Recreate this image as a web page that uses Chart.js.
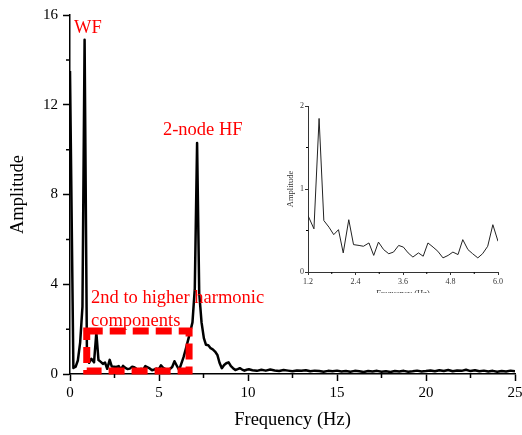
<!DOCTYPE html>
<html>
<head>
<meta charset="utf-8">
<script src="https://cdn.jsdelivr.net/npm/chart.js@4.4.0/dist/chart.umd.min.js"></script>
<style>
  html, body { margin: 0; padding: 0; background: #fff; }
  #wrap { position: relative; width: 522px; height: 435px; }
  #main { position: absolute; left: 0; top: 0; }
  #insetBox { position: absolute; left: 262px; top: 92px; width: 245px; height: 201px; overflow: hidden; }
</style>
</head>
<body>
<div id="wrap">
  <canvas id="main" width="522" height="435"></canvas>
  <div id="insetBox"><canvas id="inset" width="245" height="215"></canvas></div>
</div>
<script>
// spectrum (Hz, amplitude)
var freq = [
  0, 0.19, 0.32, 0.44, 0.57, 0.70, 0.82, 0.95, 1.07,
  1.2, 1.35, 1.48, 1.6, 1.73, 1.85, 1.97, 2.09, 2.23, 2.35,
  2.49, 2.6, 2.74, 2.86, 2.98, 3.11, 3.24, 3.36, 3.49, 3.61,
  3.73, 3.85, 3.99, 4.11, 4.23, 4.36, 4.48, 4.61, 4.74, 4.86,
  4.99, 5.11, 5.24, 5.36, 5.49, 5.61, 5.74, 5.87, 6.0,
  6.13, 6.25, 6.38, 6.5, 6.63, 6.76, 6.88, 7.01, 7.14, 7.26,
  7.39, 7.52, 7.64, 7.77, 7.9, 8.02, 8.15, 8.28, 8.4, 8.53,
  8.66, 8.78, 8.91, 9.04, 9.16, 9.29, 9.42, 9.54, 9.67, 9.8,
  9.92, 10.05,
  10.25, 10.5, 10.75, 11, 11.25, 11.5, 11.75, 12, 12.25, 12.5,
  12.75, 13, 13.25, 13.5, 13.75, 14, 14.25, 14.5, 14.75, 15,
  15.25, 15.5, 15.75, 16, 16.25, 16.5, 16.75, 17, 17.25, 17.5,
  17.75, 18, 18.25, 18.5, 18.75, 19, 19.25, 19.5, 19.75, 20,
  20.25, 20.5, 20.75, 21, 21.25, 21.5, 21.75, 22, 22.25, 22.5,
  22.75, 23, 23.25, 23.5, 23.75, 24, 24.25, 24.5, 24.75, 25
];
var amp = [
  13.5, 0.27, 0.33, 0.6, 1.4, 3.0, 14.9, 1.0, 0.5,
  0.68, 0.52, 1.85, 0.62, 0.54, 0.45, 0.51, 0.23, 0.63, 0.33,
  0.32, 0.31, 0.35, 0.20, 0.36, 0.27, 0.22, 0.24, 0.32, 0.30,
  0.23, 0.18, 0.23, 0.19, 0.35, 0.30, 0.25, 0.17, 0.20, 0.24,
  0.21, 0.39, 0.27, 0.22, 0.17, 0.22, 0.31, 0.57, 0.37,
  0.18, 0.45, 0.75, 1.1, 1.5, 1.9, 2.3, 3.8, 10.3, 3.6,
  2.3, 1.6, 1.3, 1.28, 1.15, 1.1, 1.0, 0.85, 0.5, 0.26,
  0.4, 0.48, 0.52, 0.35, 0.26, 0.18, 0.22, 0.26, 0.2, 0.15,
  0.19, 0.21,
  0.17, 0.14, 0.19, 0.15, 0.2, 0.16, 0.13, 0.18, 0.15, 0.12,
  0.16, 0.14, 0.17, 0.12, 0.15, 0.13, 0.1, 0.14, 0.12, 0.15,
  0.11, 0.13, 0.1, 0.14, 0.12, 0.09, 0.13, 0.11, 0.14, 0.1,
  0.12, 0.09, 0.13, 0.11, 0.14, 0.1, 0.12, 0.15, 0.11, 0.13,
  0.16, 0.12, 0.17, 0.13, 0.18, 0.12, 0.16, 0.14, 0.19, 0.13,
  0.17, 0.12, 0.15, 0.11, 0.14, 0.1, 0.13, 0.11, 0.15, 0.12
];

var xTicks = [0, 5, 10, 15, 20, 25];
var xMinor = [2.5, 7.5, 12.5, 17.5, 22.5];
var yTicks = [0, 4, 8, 12, 16];
var yMinor = [2, 6, 10, 14];

var insetRange = [1.2, 6.0];
var insetXTicks = [1.2, 2.4, 3.6, 4.8, 6.0];
var insetXMinor = [1.8, 3.0, 4.2, 5.4];
var insetYTicks = [0, 1, 2];
var insetYMinor = [0.5, 1.5];

var serif = '"Liberation Serif", "Times New Roman", serif';

var points = freq.map(function (f, i) { return { x: f, y: amp[i] }; });
var insetPoints = points.filter(function (p) { return p.x >= insetRange[0] && p.x <= insetRange[1]; });

// small ticks between the labelled ones
function minorTicks(xVals, yVals, len, width) {
    return {
        id: 'minorTicks',
        afterDraw: function (chart) {
            var ctx = chart.ctx, area = chart.chartArea;
            var xs = chart.scales.x, ys = chart.scales.y;
            ctx.save();
            ctx.strokeStyle = '#000';
            ctx.lineWidth = width;
            ctx.beginPath();
            xVals.forEach(function (v) {
                var px = xs.getPixelForValue(v);
                ctx.moveTo(px, area.bottom);
                ctx.lineTo(px, area.bottom + len);
            });
            yVals.forEach(function (v) {
                var py = ys.getPixelForValue(v);
                ctx.moveTo(area.left, py);
                ctx.lineTo(area.left - len, py);
            });
            ctx.stroke();
            ctx.restore();
        }
    };
}

// red labels and the dashed box
var notes = {
    id: 'notes',
    afterDatasetsDraw: function (chart) {
        var ctx = chart.ctx;
        var xs = chart.scales.x, ys = chart.scales.y;
        ctx.save();
        ctx.strokeStyle = '#ff0000';
        ctx.lineWidth = 7;
        ctx.setLineDash([16, 7]);
        var x0 = xs.getPixelForValue(0.94), x1 = xs.getPixelForValue(6.69);
        var y0 = ys.getPixelForValue(1.92), y1 = ys.getPixelForValue(0.13);
        ctx.strokeRect(x0, y0, x1 - x0, y1 - y0);
        ctx.setLineDash([]);

        ctx.fillStyle = '#ff0000';
        ctx.textAlign = 'left';
        ctx.textBaseline = 'alphabetic';
        ctx.font = '18.5px ' + serif;
        ctx.fillText('WF', xs.getPixelForValue(0.22), ys.getPixelForValue(15.2));
        ctx.fillText('2-node HF', xs.getPixelForValue(5.22), ys.getPixelForValue(10.65));
        ctx.fillText('2nd to higher harmonic', xs.getPixelForValue(1.18), ys.getPixelForValue(3.16));
        ctx.fillText('components', xs.getPixelForValue(1.18), ys.getPixelForValue(2.16));
        ctx.restore();
    }
};

var mainChart = new Chart(document.getElementById('main').getContext('2d'), {
    type: 'scatter',
    data: {
        datasets: [{
            data: points,
            showLine: true,
            borderColor: '#000',
            borderWidth: 2.5,
            borderJoinStyle: 'round',
            pointRadius: 0,
            tension: 0
        }]
    },
    options: {
        responsive: false,
        animation: false,
        layout: { padding: { top: 15, right: 7, left: 0, bottom: 0 } },
        plugins: { legend: { display: false }, tooltip: { enabled: false } },
        scales: {
            x: {
                type: 'linear', min: 0, max: 25,
                afterBuildTicks: function (s) { s.ticks = xTicks.map(function (v) { return { value: v }; }); },
                afterFit: function (s) { s.height = 61; s.paddingLeft = 0; s.paddingRight = 0; },
                ticks: { autoSkip: false, maxRotation: 0, color: '#000', padding: 3, font: { family: serif, size: 15 } },
                grid: { drawOnChartArea: false, drawTicks: true, tickLength: 7, color: '#000', tickWidth: 1.5 },
                border: { display: true, color: '#000', width: 1.5 },
                title: { display: true, text: 'Frequency (Hz)', color: '#000', font: { family: serif, size: 18.5 }, padding: { top: 0, bottom: 3.4 } }
            },
            y: {
                type: 'linear', min: 0, max: 16,
                afterBuildTicks: function (s) { s.ticks = yTicks.map(function (v) { return { value: v }; }); },
                afterFit: function (s) { s.width = 70; s.paddingTop = 0; s.paddingBottom = 0; },
                ticks: { autoSkip: false, color: '#000', padding: 5, font: { family: serif, size: 15 } },
                grid: { drawOnChartArea: false, drawTicks: true, tickLength: 7, color: '#000', tickWidth: 1.5 },
                border: { display: true, color: '#000', width: 1.5 },
                title: { display: true, text: 'Amplitude', color: '#000', font: { family: serif, size: 18.5 }, padding: { top: 6.7, bottom: 0 } }
            }
        }
    },
    plugins: [minorTicks(xMinor, yMinor, 4, 1.5), notes]
});

var insetChart = new Chart(document.getElementById('inset').getContext('2d'), {
    type: 'scatter',
    data: {
        datasets: [{
            data: insetPoints,
            showLine: true,
            borderColor: '#222',
            borderWidth: 1,
            pointRadius: 0,
            tension: 0
        }]
    },
    options: {
        responsive: false,
        animation: false,
        layout: { padding: { top: 14, right: 9, left: 0, bottom: 0 } },
        plugins: { legend: { display: false }, tooltip: { enabled: false } },
        scales: {
            x: {
                type: 'linear', min: 1.2, max: 6.0,
                afterBuildTicks: function (s) { s.ticks = insetXTicks.map(function (v) { return { value: v }; }); },
                afterFit: function (s) { s.height = 35; s.paddingLeft = 0; s.paddingRight = 0; },
                ticks: { autoSkip: false, maxRotation: 0, color: '#333', padding: 2, font: { family: serif, size: 8 },
                    callback: function (v) { return Number(v).toFixed(1); } },
                grid: { drawOnChartArea: false, drawTicks: true, tickLength: 3, color: '#333', tickWidth: 1 },
                border: { display: true, color: '#333', width: 1 },
                title: { display: true, text: 'Frequency (Hz)', color: '#333', font: { family: serif, size: 8.5 }, padding: { top: 0, bottom: 7.9 } }
            },
            y: {
                type: 'linear', min: 0, max: 2,
                afterBuildTicks: function (s) { s.ticks = insetYTicks.map(function (v) { return { value: v }; }); },
                afterFit: function (s) { s.width = 46; s.paddingTop = 0; s.paddingBottom = 0; },
                ticks: { autoSkip: false, color: '#333', padding: 1, font: { family: serif, size: 8 } },
                grid: { drawOnChartArea: false, drawTicks: true, tickLength: 3, color: '#333', tickWidth: 1 },
                border: { display: true, color: '#333', width: 1 },
                title: { display: true, text: 'Amplitude', color: '#333', font: { family: serif, size: 8.5 }, padding: { top: 23.6, bottom: 0 } }
            }
        }
    },
    plugins: [minorTicks(insetXMinor, insetYMinor, 2, 1)]
});
</script>
</body>
</html>
